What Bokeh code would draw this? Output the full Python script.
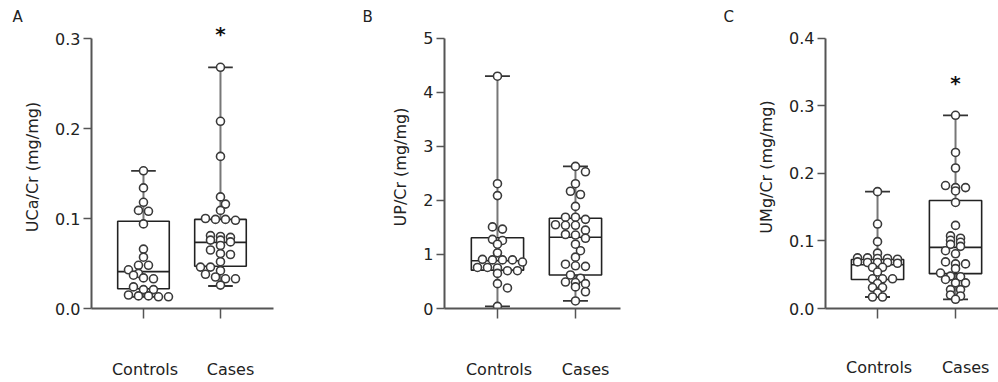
import numpy as np
from bokeh.plotting import figure
from bokeh.models import Range1d, FixedTicker, PrintfTickFormatter, LinearAxis, Title
from bokeh.layouts import row
from bokeh.embed import file_html
from bokeh.resources import INLINE
from bokeh.core.properties import value

# ---------------- data ----------------
groups = ["Controls", "Cases"]

uca_controls = [0.153, 0.134, 0.118, 0.109, 0.108, 0.094, 0.066, 0.057, 0.048, 0.048,
                0.043, 0.039, 0.037, 0.034, 0.033, 0.024, 0.021, 0.021, 0.015, 0.014,
                0.014, 0.013, 0.013]
uca_cases = [0.268, 0.208, 0.169, 0.124, 0.116, 0.109, 0.100, 0.099, 0.099, 0.098,
             0.081, 0.080, 0.079, 0.076, 0.076, 0.074, 0.070, 0.065, 0.061, 0.060,
             0.052, 0.046, 0.046, 0.042, 0.038, 0.035, 0.033, 0.033, 0.026]
uca_min = [0.013, 0.025]
uca_q1 = [0.022, 0.047]
uca_med = [0.041, 0.0735]
uca_q3 = [0.097, 0.099]
uca_max = [0.153, 0.268]
uca_sig = [False, True]

up_controls = [4.30, 2.31, 2.09, 1.51, 1.47, 1.28, 1.26, 1.19, 1.03, 0.91, 0.90, 0.90,
               0.90, 0.86, 0.76, 0.76, 0.75, 0.70, 0.70, 0.65, 0.46, 0.38, 0.04]
up_cases = [2.63, 2.53, 2.31, 2.17, 2.11, 1.89, 1.69, 1.69, 1.65, 1.55, 1.54, 1.54,
            1.45, 1.37, 1.36, 1.30, 1.19, 1.07, 0.95, 0.82, 0.79, 0.78, 0.62, 0.56,
            0.49, 0.48, 0.46, 0.40, 0.31, 0.14]
up_min = [0.04, 0.14]
up_q1 = [0.71, 0.62]
up_med = [0.885, 1.32]
up_q3 = [1.31, 1.67]
up_max = [4.30, 2.63]
up_sig = [False, False]

umg_controls = [0.173, 0.125, 0.099, 0.082, 0.075, 0.075, 0.074, 0.074, 0.073, 0.069,
                0.068, 0.068, 0.068, 0.067, 0.061, 0.061, 0.054, 0.044, 0.044, 0.044,
                0.037, 0.031, 0.031, 0.023, 0.017, 0.017]
umg_cases = [0.286, 0.231, 0.208, 0.182, 0.179, 0.179, 0.174, 0.157, 0.123, 0.1075,
             0.104, 0.101, 0.098, 0.095, 0.092, 0.0856, 0.081, 0.069, 0.066, 0.066,
             0.059, 0.0525, 0.048, 0.047, 0.043, 0.038, 0.038, 0.028, 0.028, 0.020,
             0.0185, 0.0136]
umg_min = [0.017, 0.0136]
umg_q1 = [0.043, 0.0516]
umg_med = [0.0647, 0.0905]
umg_q3 = [0.0725, 0.160]
umg_max = [0.173, 0.286]
umg_sig = [False, True]

FONT = "DejaVu Sans"
TXT = "#222222"
AX = "#555555"


def swarm(vals, ppu, ppc, d=10.0, bin_h=4.0):
    """Row-binned dot layout (GraphPad-like), computed in pixel space."""
    v = np.asarray(vals, float)
    order = np.argsort(-v)
    rows = []
    for i in order:
        if rows and (v[rows[-1][0]] - v[i]) * ppu <= bin_h:
            rows[-1].append(i)
        else:
            rows.append([i])
    offs = np.zeros(len(v))
    placed = []
    for r in rows:
        n = len(r)
        base = (np.arange(n) - (n - 1) / 2) * d
        best = base
        for shift in [0, d / 2, -d / 2, d, -d]:
            cand = base + shift
            ok = True
            for k, i in enumerate(r):
                for px, py in placed:
                    if np.hypot(cand[k] - px, v[i] * ppu - py) < 0.8 * d:
                        ok = False
                        break
                if not ok:
                    break
            if ok:
                best = cand
                break
        for k, i in enumerate(r):
            offs[i] = best[k]
            placed.append((best[k], v[i] * ppu))
    return offs / ppc


def panel(letter, ylabel, ctrl, case, mn, q1, med, q3, mx, sig,
          width, left, right, bottom, y_end, bound, ticks, fmt, x_start, x_end,
          letter_off, standoff):
    height = 382
    top = 25
    fh = height - top - bottom
    fw = width - left - right
    ppu = fh / y_end
    ppc = fw / (x_end - x_start)
    p = figure(width=width, height=height, x_range=Range1d(x_start, x_end),
               y_range=Range1d(0, y_end), output_backend="svg", toolbar_location=None,
               min_border_left=left, min_border_right=right, min_border_top=top,
               min_border_bottom=bottom)
    p.outline_line_color = None
    p.grid.visible = False

    p.add_layout(Title(text=letter, align="left", offset=letter_off, standoff=0,
                       text_font=FONT, text_font_size="15px", text_font_style="normal",
                       text_color=TXT), "above")

    xs = [1, 2]
    bw = 0.67
    cw = 0.32
    # whiskers
    p.segment(x0=xs, y0=q3, x1=xs, y1=mx, line_color="#777777", line_width=2)
    p.segment(x0=xs, y0=mn, x1=xs, y1=q1, line_color="#777777", line_width=2)
    p.segment(x0=[x - cw / 2 for x in xs], y0=mx, x1=[x + cw / 2 for x in xs], y1=mx,
              line_color="#333333", line_width=1.8)
    p.segment(x0=[x - cw / 2 for x in xs], y0=mn, x1=[x + cw / 2 for x in xs], y1=mn,
              line_color="#333333", line_width=1.8)
    # boxes
    p.quad(left=[x - bw / 2 for x in xs], right=[x + bw / 2 for x in xs], bottom=q1, top=q3,
           fill_color=None, line_color="#222222", line_width=1.6)
    p.segment(x0=[x - bw / 2 for x in xs], y0=med, x1=[x + bw / 2 for x in xs], y1=med,
              line_color="#222222", line_width=1.6)
    # points
    for gx, vals in zip(xs, [ctrl, case]):
        off = swarm(vals, ppu, ppc)
        p.scatter(x=gx + off, y=vals, size=8, marker="circle", fill_color="white",
                  line_color="#3a3a3a", line_width=1.6)
    # significance
    sx = [x for x, s in zip(xs, sig) if s]
    sy = [m + 34 / ppu for m, s in zip(mx, sig) if s]
    if sx:
        p.text(x=sx, y=sy, text=["*"] * len(sx), text_align="center", text_baseline="middle",
               text_font=value(FONT), text_font_size="20px", text_font_style="bold",
               text_color="#111111", y_offset=1)

    # axes
    xa = p.xaxis[0]
    xa.ticker = FixedTicker(ticks=xs)
    xa.major_label_overrides = {1: "", 2: ""}
    xa.major_label_text_font_size = "0px"
    xa.major_label_standoff = 0
    xa.major_tick_out = 10
    lab = LinearAxis(ticker=FixedTicker(ticks=[1.02, 2.13]),
                     major_label_overrides={1.02: groups[0], 2.13: groups[1]},
                     axis_line_color=None, major_tick_line_color=None,
                     minor_tick_line_color=None, major_tick_out=0, major_tick_in=0,
                     major_label_standoff=standoff, major_label_text_font=FONT,
                     major_label_text_font_size="16px", major_label_text_color=TXT)
    p.add_layout(lab, "below")

    p.yaxis.ticker = FixedTicker(ticks=ticks)
    p.yaxis.formatter = PrintfTickFormatter(format=fmt)
    p.yaxis.bounds = bound
    p.yaxis.axis_label = ylabel
    for ax in [xa, p.yaxis[0]]:
        ax.axis_line_color = AX
        ax.axis_line_width = 2
        ax.major_tick_line_color = AX
        ax.major_tick_line_width = 1.5
        ax.minor_tick_line_color = None
        ax.major_tick_in = 0
    ya = p.yaxis[0]
    ya.major_label_text_font = FONT
    ya.major_label_text_font_size = "16px"
    ya.major_label_text_color = TXT
    ya.major_tick_out = 8
    ya.major_label_standoff = 3
    ya.axis_label_text_font = FONT
    ya.axis_label_text_font_size = "16px"
    ya.axis_label_text_font_style = "normal"
    ya.axis_label_text_color = TXT
    ya.axis_label_standoff = 10
    return p


pA = panel("A", "UCa/Cr (mg/mg)", uca_controls, uca_cases, uca_min, uca_q1, uca_med,
           uca_q3, uca_max, uca_sig, width=330, left=91, right=57, bottom=74,
           y_end=283 / 900, bound=(0, 0.3), ticks=[0, 0.1, 0.2, 0.3], fmt="%.1f",
           x_start=0.325, x_end=0.325 + 182 / 77, letter_off=-79, standoff=41)
pB = panel("B", "UP/Cr (mg/mg)", up_controls, up_cases, up_min, up_q1, up_med,
           up_q3, up_max, up_sig, width=330, left=114, right=40, bottom=71,
           y_end=286 / 54.6, bound=(0, 5), ticks=[0, 1, 2, 3, 4, 5], fmt="%d",
           x_start=0.321, x_end=0.321 + 176 / 78, letter_off=-82, standoff=41)
pC = panel("C", "UMg/Cr (mg/mg)", umg_controls, umg_cases, umg_min, umg_q1, umg_med,
           umg_q3, umg_max, umg_sig, width=338, left=165, right=0, bottom=70,
           y_end=287 / 685, bound=(0, 0.4), ticks=[0, 0.1, 0.2, 0.3, 0.4], fmt="%.1f",
           x_start=0.333, x_end=0.333 + 173 / 78, letter_off=-102, standoff=39)

layout = row(pA, pB, pC)
open("out.html", "w").write(file_html(layout, INLINE))
